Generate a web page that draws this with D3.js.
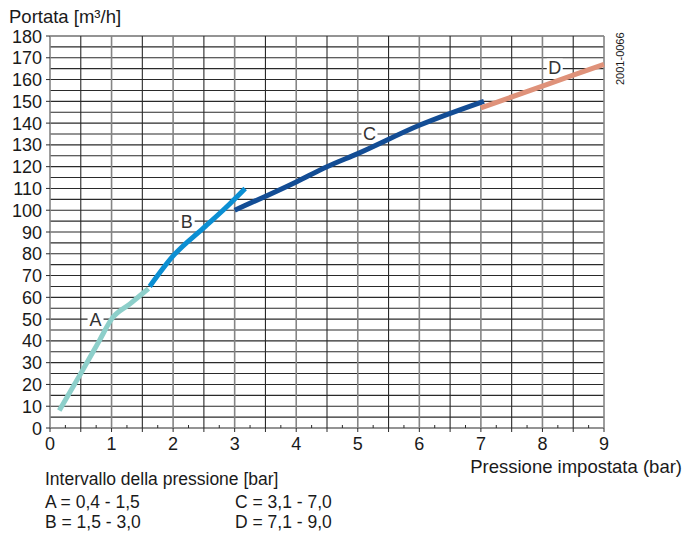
<!DOCTYPE html>
<html>
<head>
<meta charset="utf-8">
<script src="https://cdn.jsdelivr.net/npm/d3@7"></script>
<style>
  body { margin: 0; background: #fff; }
  text { font-family: "Liberation Sans", Arial, sans-serif; fill: #1a1a1a; }
</style>
</head>
<body>
<svg id="chart" width="684" height="535"></svg>
<script>
// curves: [pressure bar, flow m3/h]
const curveA = [[0.15, 8], [0.5, 25], [0.8, 40], [1.0, 50], [1.3, 57], [1.6, 64]];
const curveB = [[1.62, 65], [2.0, 79], [2.5, 92], [2.85, 101], [3.17, 110]];
const curveC = [[3.0, 100], [4.0, 113], [4.5, 120], [5.0, 126], [6.0, 139], [7.05, 150]];
const curveD = [[7.0, 147], [8.0, 157], [9.0, 167]];

const seriesNames = ["A", "B", "C", "D"];
const seriesColors = ["#8dcfca", "#0b8fd3", "#134d95", "#df927a"];
const labelPos = [[0.74, 49.6], [2.22, 94.6], [5.19, 135.4], [8.2, 165.5]];

const yTicks = d3.range(0, 181, 10);
const xTicks = d3.range(0, 10, 1);

const legendTitle = "Intervallo della pressione [bar]";
const legendLines = [["A = 0,4 - 1,5", "C = 3,1 - 7,0"], ["B = 1,5 - 3,0", "D = 7,1 - 9,0"]];

const svg = d3.select("#chart");
const x = d3.scaleLinear().domain([0, 9]).range([50, 604]);
const y = d3.scaleLinear().domain([0, 180]).range([428, 36]);

// horizontal grid every 5
const grid = svg.append("g");
grid.selectAll(".hg")
    .data(d3.range(0, 181, 5))
    .enter()
    .append("line")
    .attr("x1", x(0))
    .attr("x2", x(9))
    .attr("y1", d => y(d))
    .attr("y2", d => y(d))
    .style("stroke", "#2a2a2a")
    .style("stroke-width", 1.1);

// vertical grid every 0.5, whole bars drawn grey
grid.selectAll(".vg")
    .data(d3.range(0, 9.01, 0.5))
    .enter()
    .append("line")
    .attr("x1", d => x(d))
    .attr("x2", d => x(d))
    .attr("y1", y(180))
    .attr("y2", y(0))
    .style("stroke", d => (d % 1 === 0 ? "#858585" : "#2a2a2a"))
    .style("stroke-width", d => (d % 1 === 0 ? 1.6 : 1.1));

// y ticks and labels
const yAxis = svg.append("g");
yAxis.selectAll("line")
    .data(yTicks)
    .enter()
    .append("line")
    .attr("x1", x(0) - 4)
    .attr("x2", x(0))
    .attr("y1", d => y(d))
    .attr("y2", d => y(d))
    .style("stroke", "#2a2a2a");
yAxis.selectAll("text")
    .data(yTicks)
    .enter()
    .append("text")
    .attr("x", 42)
    .attr("y", d => y(d) + 6.5)
    .attr("text-anchor", "end")
    .style("font-size", "18px")
    .text(d => d);

// x ticks: major at 0.5 below, minor at 0.25 above
const xAxis = svg.append("g");
xAxis.selectAll(".maj")
    .data(d3.range(0, 9.01, 0.5))
    .enter()
    .append("line")
    .attr("x1", d => x(d))
    .attr("x2", d => x(d))
    .attr("y1", y(0))
    .attr("y2", y(0) + 4)
    .style("stroke", "#2a2a2a");
xAxis.selectAll(".min")
    .data(d3.range(0.25, 9, 0.5))
    .enter()
    .append("line")
    .attr("x1", d => x(d))
    .attr("x2", d => x(d))
    .attr("y1", y(0) - 3)
    .attr("y2", y(0))
    .style("stroke", "#2a2a2a");
xAxis.selectAll("text")
    .data(xTicks)
    .enter()
    .append("text")
    .attr("x", d => x(d))
    .attr("y", 450)
    .attr("text-anchor", "middle")
    .style("font-size", "18px")
    .text(d => d);

// white patches behind curve letters (under the curves)
seriesNames.forEach(function (name, i) {
    const [lx, ly] = labelPos[i];
    svg.append("rect")
        .attr("x", x(lx) - 8)
        .attr("y", y(ly) - 9)
        .attr("width", 16)
        .attr("height", 18)
        .style("fill", "#fff");
});

// curves
const line = d3.line()
    .x(d => x(d[0]))
    .y(d => y(d[1]))
    .curve(d3.curveMonotoneX);

[curveA, curveB, curveC, curveD].forEach(function (pts, i) {
    svg.append("path")
        .datum(pts)
        .attr("d", line)
        .style("fill", "none")
        .style("stroke", seriesColors[i])
        .style("stroke-width", 5);
});

seriesNames.forEach(function (name, i) {
    const [lx, ly] = labelPos[i];
    svg.append("text")
        .attr("x", x(lx))
        .attr("y", y(ly) + 6.5)
        .attr("text-anchor", "middle")
        .style("font-size", "18px")
        .style("fill", "#333")
        .text(name);
});

// titles
svg.append("text")
    .attr("x", 9)
    .attr("y", 23)
    .style("font-size", "18.5px")
    .text("Portata [m\u00b3/h]");

svg.append("text")
    .attr("x", 682)
    .attr("y", 473)
    .attr("text-anchor", "end")
    .style("font-size", "18.5px")
    .text("Pressione impostata (bar)");

svg.append("text")
    .attr("transform", "translate(624,85) rotate(-90)")
    .style("font-size", "11px")
    .text("2001-0066");

// legend
svg.append("text")
    .attr("x", 45)
    .attr("y", 485)
    .style("font-size", "17.5px")
    .text(legendTitle);

legendLines.forEach(function (row, r) {
    row.forEach(function (txt, c) {
        svg.append("text")
            .attr("x", c === 0 ? 45 : 235)
            .attr("y", 508 + r * 20)
            .style("font-size", "17.5px")
            .text(txt);
    });
});
</script>
</body>
</html>
